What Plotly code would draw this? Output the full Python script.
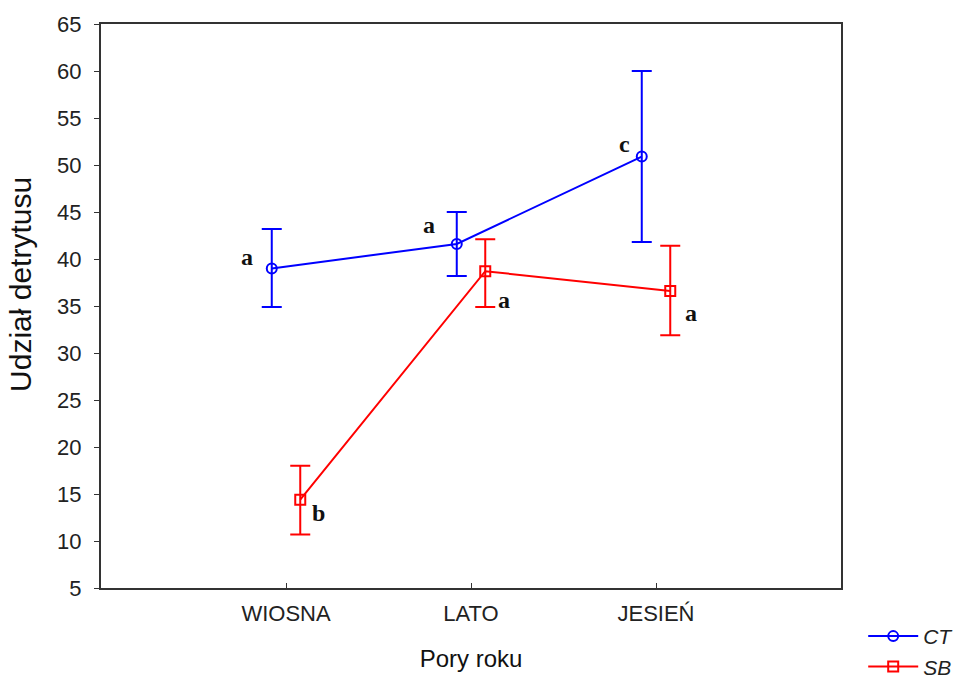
import plotly.graph_objects as go

seasons = ["WIOSNA", "LATO", "JESIEŃ"]
ct_mean = [39.0, 41.6, 50.9]
ct_upper = [43.2, 45.0, 60.0]
ct_lower = [34.9, 38.2, 41.8]
sb_mean = [14.4, 38.7, 36.6]
sb_upper = [18.0, 42.1, 41.4]
sb_lower = [10.7, 34.9, 31.9]
ct_letters = ["a", "a", "c"]
sb_letters = ["b", "a", "a"]

OFF = 0.077
idx = list(range(len(seasons)))
ct_x = [i - OFF for i in idx]
sb_x = [i + OFF for i in idx]

fig = go.Figure()

def add_series(name, xs, mean, up, lo, color, symbol):
    fig.add_trace(go.Scatter(
        x=xs, y=mean, name=name, mode="lines+markers",
        line=dict(color=color, width=2),
        marker=dict(symbol=symbol, size=10, color=color,
                    line=dict(color=color, width=2)),
        error_y=dict(type="data", symmetric=False,
                     array=[u - m for u, m in zip(up, mean)],
                     arrayminus=[m - l for m, l in zip(mean, lo)],
                     color=color, thickness=2, width=10),
    ))

add_series("CT", ct_x, ct_mean, ct_upper, ct_lower, "#0000FF", "circle-open")
add_series("SB", sb_x, sb_mean, sb_upper, sb_lower, "#FF0000", "square-open")

ct_shifts = [(-25, 11), (-28, 19), (-17, 13)]
sb_shifts = [(18, -13), (19, -29), (21, -22)]
for xs, ys, letters, shifts in [(ct_x, ct_mean, ct_letters, ct_shifts),
                                (sb_x, sb_mean, sb_letters, sb_shifts)]:
    for x, y, t, (dx, dy) in zip(xs, ys, letters, shifts):
        fig.add_annotation(x=x, y=y, text="<b>%s</b>" % t, showarrow=False,
                           xshift=dx, yshift=dy,
                           font=dict(family="Liberation Serif", size=24, color="#111"))

# y-axis title placed as an annotation to match its position
fig.add_annotation(xref="paper", yref="paper", x=-0.1095, y=0.539,
                   text="Udział detrytusu", textangle=-90, showarrow=False,
                   xanchor="center", yanchor="middle",
                   font=dict(family="Liberation Sans, Arial", size=30, color="#111"))

fig.update_layout(
    width=970, height=687,
    margin=dict(l=101, r=129, t=24, b=99, autoexpand=False),
    plot_bgcolor="white", paper_bgcolor="white",
    font=dict(family="Liberation Sans, Arial", color="#222"),
    legend=dict(x=1.03, y=-0.0496, xanchor="left", yanchor="top",
                font=dict(size=21, family="Liberation Sans, Arial", color="#222", style="italic"),
                itemwidth=50, tracegroupgap=0, bgcolor="rgba(0,0,0,0)"),
    showlegend=True,
)
fig.update_xaxes(
    range=[-1, 3], tickvals=idx, ticktext=seasons,
    ticks="inside", ticklen=5, tickcolor="#333",
    showline=True, mirror=True, linecolor="#333", linewidth=2,
    showgrid=False, zeroline=False, automargin=False,
    ticklabelstandoff=5,
    tickfont=dict(size=22, color="#222"),
    title=dict(text="Pory roku", font=dict(size=24, color="#111"), standoff=25),
)
fig.update_yaxes(
    range=[5, 65], dtick=5, tick0=5,
    ticks="outside", ticklen=5, tickcolor="#333",
    showline=True, mirror=True, linecolor="#333", linewidth=2,
    showgrid=False, zeroline=False, automargin=False,
    ticklabelstandoff=8,
    tickfont=dict(size=22, color="#222"),
)

fig.write_html("out.html")
